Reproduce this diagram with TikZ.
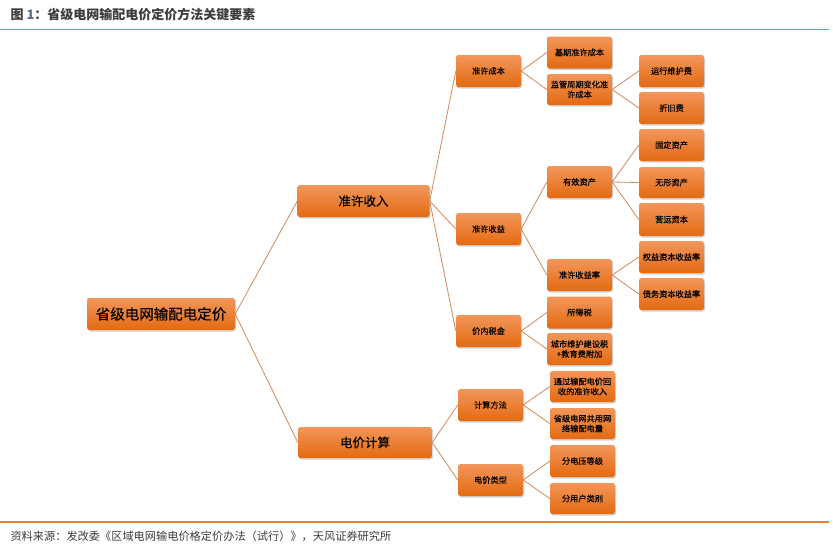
\documentclass[tikz,border=0pt]{standalone}
\usepackage{fontspec}
\setmainfont{Noto Sans CJK SC}
\newfontfamily\boxfont{Noto Sans CJK SC}[FakeBold=0.35]
\usetikzlibrary{shadows}
\definecolor{boxtop}{HTML}{F3965A}
\definecolor{boxbot}{HTML}{E36A12}
\definecolor{linkc}{HTML}{D4875A}
\definecolor{rulec}{HTML}{E8822E}
\definecolor{titlec}{HTML}{3C3C3C}
\definecolor{numc}{HTML}{5A6E8C}
\tikzset{
  box/.style={draw=none, rounded corners=2.5pt, top color=boxtop, bottom color=boxbot,
    drop shadow={opacity=0.35, shadow xshift=1pt, shadow yshift=-1.5pt},
    inner sep=0pt, align=center, text=black, font=\boxfont\fontsize{8.2}{10}\selectfont,
    minimum width=65pt, minimum height=32pt},
  midbox/.style={box, minimum width=132pt, minimum height=32pt, font=\boxfont\fontsize{12.5}{14}\selectfont},
  rootbox/.style={box, minimum width=148pt, minimum height=32pt, font=\boxfont\fontsize{14.5}{16}\selectfont},
  link/.style={draw=linkc, line width=0.8pt},
}
\begin{document}
\begin{tikzpicture}[x=1pt, y=-1pt]
\useasboundingbox (0,0) rectangle (833,544);
% header and footer
\node[anchor=west, text=titlec, font=\fontsize{13}{15}\selectfont\bfseries] (title) at (7,14.5) {图 \textcolor{numc}{1}：省级电网输配电价定价方法关键要素};
\draw[rulec, line width=1.2pt] (0,29.5) -- (829,29.5);
\draw[rulec, line width=1.2pt] (0,522) -- (829,522);
\node[anchor=west, text=titlec, font=\fontsize{11.2}{13}\selectfont] (src) at (7,536) {资料来源：发改委《区域电网输电价格定价办法（试行）》，天风证券研究所};

% nodes
\node[rootbox] (root) at (161,314) {省级电网输配电定价};
\node[midbox] (zxsr) at (363.5,201) {准许收入};
\node[midbox, minimum width=134pt, minimum height=31pt] (djjs) at (365,442.5) {电价计算};

\node[box] (zxcb) at (488.5,71) {准许成本};
\node[box] (zxsy) at (488.5,229) {准许收益};
\node[box] (jnsj) at (488.5,331) {价内税金};

\node[box] (jqcb) at (579.5,52.5) {基期准许成本};
\node[box, minimum height=31pt] (jgzq) at (579.5,89.5) {监管周期变化准\\许成本};
\node[box] (yxzc) at (579.5,182) {有效资产};
\node[box] (zxsyl) at (579.5,275) {准许收益率};
\node[box] (sds) at (579.5,312.5) {所得税};
\node[box] (cswh) at (579.5,349) {城市维护建设税\\+教育费附加};

\node[box] (yxwh) at (671.5,71) {运行维护费};
\node[box] (zjf) at (671.5,108) {折旧费};
\node[box] (gdzc) at (671.5,145) {固定资产};
\node[box, minimum height=31pt] (wxzc) at (671.5,182.5) {无形资产};
\node[box, minimum height=33pt] (yyzb) at (671.5,219.5) {营运资本};
\node[box] (qyzb) at (671.5,257) {权益资本收益率};
\node[box] (zwzb) at (671.5,294) {债务资本收益率};

\node[box] (jsff) at (490.5,405) {计算方法};
\node[box] (djlx) at (490.5,480) {电价类型};
\node[box, minimum height=31pt] (tgsp) at (582.5,386.5) {通过输配电价回\\收的准许收入};
\node[box, minimum height=31pt] (sjdw) at (582.5,423.5) {省级电网共用网\\络输配电量};
\node[box] (fdy) at (582.5,461) {分电压等级};
\node[box, minimum height=31pt] (fyh) at (582.5,498.5) {分用户类别};

% connectors
\foreach \a/\b in {root/zxsr, root/djjs, zxsr/zxcb, zxsr/zxsy, zxsr/jnsj,
  zxcb/jqcb, zxcb/jgzq, jgzq/yxwh, jgzq/zjf, zxsy/yxzc, zxsy/zxsyl,
  yxzc/gdzc, yxzc/wxzc, yxzc/yyzb, zxsyl/qyzb, zxsyl/zwzb, jnsj/sds, jnsj/cswh,
  djjs/jsff, djjs/djlx, jsff/tgsp, jsff/sjdw, djlx/fdy, djlx/fyh}
  \draw[link] (\a.east) -- (\b.west);
\end{tikzpicture}
\end{document}
